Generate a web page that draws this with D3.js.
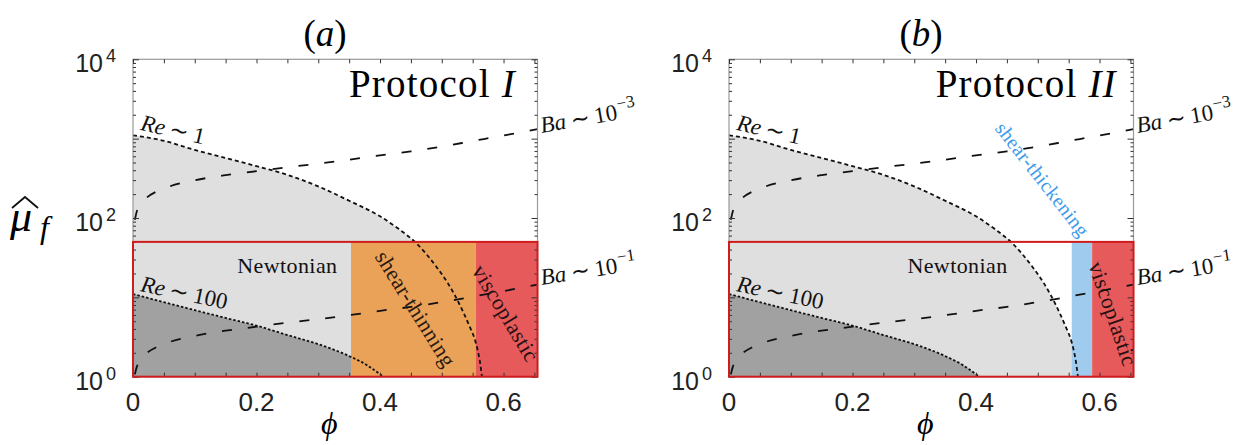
<!DOCTYPE html>
<html><head><meta charset="utf-8">
<script src="https://cdn.jsdelivr.net/npm/d3@7"></script>
<style>body{margin:0;background:#fff} svg{display:block}</style>
</head><body>
<svg id="c" width="1239" height="445"></svg>
<script>
// ---------------- data ----------------
const rePhi   = [0, 0.05, 0.10, 0.15, 0.20, 0.25, 0.30, 0.35, 0.40, 0.43, 0.46, 0.49, 0.51, 0.53, 0.545, 0.555, 0.562, 0.565];
const re1Mu   = [1100, 940, 720, 570, 450, 350, 250, 165, 105, 73, 47, 25, 15, 7.8, 4.3, 2.7, 1.5, 1];
const re100Phi = [0, 0.05, 0.10, 0.15, 0.20, 0.25, 0.30, 0.35, 0.38, 0.405];
const re100Mu  = [11, 8.7, 6.9, 5.5, 4.4, 3.35, 2.57, 1.82, 1.38, 1];
const baPhi  = [0.003, 0.006, 0.012, 0.02, 0.04, 0.06, 0.1, 0.15, 0.2, 0.25, 0.3, 0.35, 0.4, 0.45, 0.5, 0.55, 0.6, 0.655];
const ba3Mu  = [95, 120, 148, 174, 219, 251, 299, 347, 389, 437, 484, 543, 617, 692, 794, 933, 1096, 1318];
const ba1Mu  = [1.07, 1.32, 1.62, 1.91, 2.40, 2.75, 3.27, 3.80, 4.27, 4.79, 5.31, 5.96, 6.76, 7.59, 8.71, 10.2, 12.0, 14.5];

const regimeTopMu = 50;          // top of the red-outlined regime box
const bandsAFrom = [0.353, 0.555];
const bandsATo   = [0.555, 0.655];
const bandsAKind = ["shear-thinning", "viscoplastic"];
const bandsBFrom = [0.555, 0.588];
const bandsBTo   = [0.588, 0.655];
const bandsBKind = ["shear-thickening", "viscoplastic"];

const phiTicks = [0, 0.2, 0.4, 0.6];
const phiTickLabels = ["0", "0.2", "0.4", "0.6"];
const muTicks = [1, 100, 10000];
const muTickExp = ["0", "2", "4"];
const panelTitles = ["a", "b"];
const protocolNums = ["I", "II"];

// ---------------- styles ----------------
const kindColor = {"shear-thinning": "#eaa158", "viscoplastic": "#e65a5c", "shear-thickening": "#9fcbee"};
const SERIF = "'Liberation Serif','Times New Roman',serif";
const SANS = "'Liberation Sans',Arial,Helvetica,sans-serif";

const svg = d3.select("#c");
const W = 404.5, H = 317.4, TOP = 59.3;
const offsets = [133, 729];

function panel(i) {
  const g = svg.append("g").attr("transform", `translate(${offsets[i]},${TOP})`);
  const x = d3.scaleLinear().domain([0, 0.655]).range([0, W]);
  const y = d3.scaleLog().domain([1, 1e4]).range([H, 0]);
  const cid = "clip" + i;
  g.append("clipPath").attr("id", cid).append("rect").attr("width", W).attr("height", H);
  const pg = g.append("g").attr("clip-path", `url(#${cid})`);

  const re1 = rePhi.map((p, k) => [p, re1Mu[k]]);
  const re100 = re100Phi.map((p, k) => [p, re100Mu[k]]);
  const ba3 = baPhi.map((p, k) => [p, ba3Mu[k]]);
  const ba1 = baPhi.map((p, k) => [p, ba1Mu[k]]);

  const area = d3.area().x(d => x(d[0])).y0(y(1)).y1(d => y(d[1])).curve(d3.curveMonotoneX);
  const line = d3.line().x(d => x(d[0])).y(d => y(d[1])).curve(d3.curveMonotoneX);

  pg.append("path").datum(re1).attr("d", area).attr("fill", "#dfdfdf");
  pg.append("path").datum(re100).attr("d", area).attr("fill", "#a1a1a1");

  const from = i === 0 ? bandsAFrom : bandsBFrom;
  const to = i === 0 ? bandsATo : bandsBTo;
  const kind = i === 0 ? bandsAKind : bandsBKind;
  pg.selectAll("rect.band").data(from.map((f, k) => ({f, t: to[k], k: kind[k]})))
    .enter().append("rect").attr("class", "band")
    .attr("x", d => x(d.f)).attr("width", d => x(d.t) - x(d.f))
    .attr("y", y(regimeTopMu)).attr("height", y(1) - y(regimeTopMu))
    .attr("fill", d => kindColor[d.k]);

  // frame
  g.append("rect").attr("width", W).attr("height", H).attr("fill", "none")
    .attr("stroke", "#9a9a9a").attr("stroke-width", 1.2);

  // ticks
  const xMinor = d3.range(0, 0.6551, 0.05);
  const tickStyle = s => s.call(a => a.select(".domain").remove())
      .selectAll("line").attr("stroke", "#333").attr("stroke-width", 1);
  g.append("g").attr("transform", `translate(0,${H})`)
    .call(d3.axisBottom(x).tickValues(xMinor).tickSize(-4).tickFormat("")).call(tickStyle);
  g.append("g").call(d3.axisTop(x).tickValues(xMinor).tickSize(-4).tickFormat("")).call(tickStyle);
  const yMajor = [1, 10, 100, 1000, 10000];
  const yMinor = [];
  [1, 10, 100, 1000].forEach(b => { for (let m = 2; m <= 9; m++) yMinor.push(b * m); });
  g.append("g").call(d3.axisLeft(y).tickValues(yMajor).tickSize(-6).tickFormat("")).call(tickStyle);
  g.append("g").call(d3.axisLeft(y).tickValues(yMinor).tickSize(-3).tickFormat("")).call(tickStyle);
  g.append("g").attr("transform", `translate(${W},0)`)
    .call(d3.axisRight(y).tickValues(yMajor).tickSize(-6).tickFormat("")).call(tickStyle);
  g.append("g").attr("transform", `translate(${W},0)`)
    .call(d3.axisRight(y).tickValues(yMinor).tickSize(-3).tickFormat("")).call(tickStyle);

  // curves
  pg.append("path").datum(re1).attr("d", line).attr("fill", "none").attr("stroke", "#111")
    .attr("stroke-width", 1.8).attr("stroke-dasharray", "4,3");
  pg.append("path").datum(re100).attr("d", line).attr("fill", "none").attr("stroke", "#111")
    .attr("stroke-width", 1.8).attr("stroke-dasharray", "2.5,2");
  [ba3, ba1].forEach(c => pg.append("path").datum(c).attr("d", line).attr("fill", "none")
    .attr("stroke", "#111").attr("stroke-width", 1.8).attr("stroke-dasharray", "10,16"));

  // regime box outline
  g.append("rect").attr("x", x(0)).attr("width", x(0.655) - x(0))
    .attr("y", y(regimeTopMu)).attr("height", y(1) - y(regimeTopMu))
    .attr("fill", "none").attr("stroke", "#cf1d1d").attr("stroke-width", 2);

  // tick labels
  g.selectAll("text.xl").data(phiTicks).enter().append("text").attr("class", "xl")
    .attr("x", d => x(d)).attr("y", H + 34).attr("text-anchor", "middle")
    .attr("font-family", SANS).attr("font-size", 26).attr("fill", "#222")
    .text((d, k) => phiTickLabels[k]);
  const yl = g.selectAll("text.yl").data(muTicks).enter().append("text").attr("class", "yl")
    .attr("x", -17).attr("y", d => y(d) + 13).attr("text-anchor", "end")
    .attr("font-family", SANS).attr("font-size", 25).attr("fill", "#222");
  yl.append("tspan").text("10");
  yl.append("tspan").attr("dx", 3).attr("dy", -10).attr("font-size", 18).text((d, k) => muTickExp[k]);

  // axis label phi
  g.append("text").attr("x", x(0.318)).attr("y", H + 57).attr("text-anchor", "middle")
    .attr("font-family", SERIF).attr("font-style", "italic").attr("font-size", 32).text("ϕ");

  // panel title
  const t = g.append("text").attr("x", x(0.311)).attr("y", -13).attr("text-anchor", "middle")
    .attr("font-family", SERIF).attr("font-size", 37);
  t.append("tspan").text("(");
  t.append("tspan").attr("font-style", "italic").text(panelTitles[i]);
  t.append("tspan").text(")");

  // protocol
  const pr = g.append("text").attr("x", x(i === 0 ? 0.620 : 0.628)).attr("y", y(3350))
    .attr("text-anchor", "end").attr("font-family", SERIF).attr("font-size", 39)
    .attr("letter-spacing", 1.2);
  pr.append("tspan").text("Protocol ");
  pr.append("tspan").attr("font-style", "italic").text(protocolNums[i]);

  // Re / Ba labels
  function mathLabel(px, mu, rot, sym, rhs, sup) {
    const tx = g.append("text").attr("transform", `translate(${x(px)},${y(mu)}) rotate(${rot})`)
      .attr("font-family", SERIF).attr("font-size", 23).attr("fill", "#111");
    tx.append("tspan").attr("font-style", "italic").text(sym);
    tx.append("tspan").attr("dx", 5).text("∼");
    tx.append("tspan").attr("dx", 5).text(rhs);
    if (sup) tx.append("tspan").attr("dy", -10).attr("dx", 1).attr("font-size", 17).text(sup);
  }
  mathLabel(0.011, 1290, 13, "Re", "1");
  mathLabel(0.011, 12.0, 12, "Re", "100");
  mathLabel(0.662, 1180, -10, "Ba", "10", "−3");
  mathLabel(0.662, 14.3, -9, "Ba", "10", "−1");

  // regime labels
  function regime(px, mu, rot, txt, col, fs) {
    g.append("text").attr("transform", `translate(${x(px)},${y(mu)}) rotate(${rot})`)
      .attr("text-anchor", "middle").attr("dy", "0.32em")
      .attr("font-family", SERIF).attr("font-size", fs).attr("letter-spacing", 0.4)
      .attr("fill", col).text(txt);
  }
  g.append("text").attr("x", x(i === 0 ? 0.250 : 0.370)).attr("y", y(20.3)).attr("text-anchor", "middle")
    .attr("font-family", SERIF).attr("font-size", 22).attr("letter-spacing", 0.4).attr("fill", "#111").text("Newtonian");
  if (i === 0) {
    regime(0.457, 7.13, 58, "shear-thinning", "#2a1a10", 22);
    regime(0.603, 6.26, 59, "viscoplastic", "#2a1010", 22);
  } else {
    regime(0.507, 305, 52, "shear-thickening", "#3d9be9", 20);
    regime(0.621, 6.2, 71, "viscoplastic", "#2a1010", 22);
  }
}
panel(0);
panel(1);

// y axis label (mu hat sub f)
const ylab = svg.append("g");
ylab.append("text").attr("x", 10).attr("y", 231).attr("font-family", SERIF)
  .attr("font-style", "italic").attr("font-size", 44).text("μ");
ylab.append("text").attr("x", 40).attr("y", 238).attr("font-family", SERIF)
  .attr("font-style", "italic").attr("font-size", 32).text("f");
ylab.append("path").attr("d", "M12,208 L25,197 L38,208").attr("fill", "none")
  .attr("stroke", "#111").attr("stroke-width", 1.8);
</script>
</body></html>
